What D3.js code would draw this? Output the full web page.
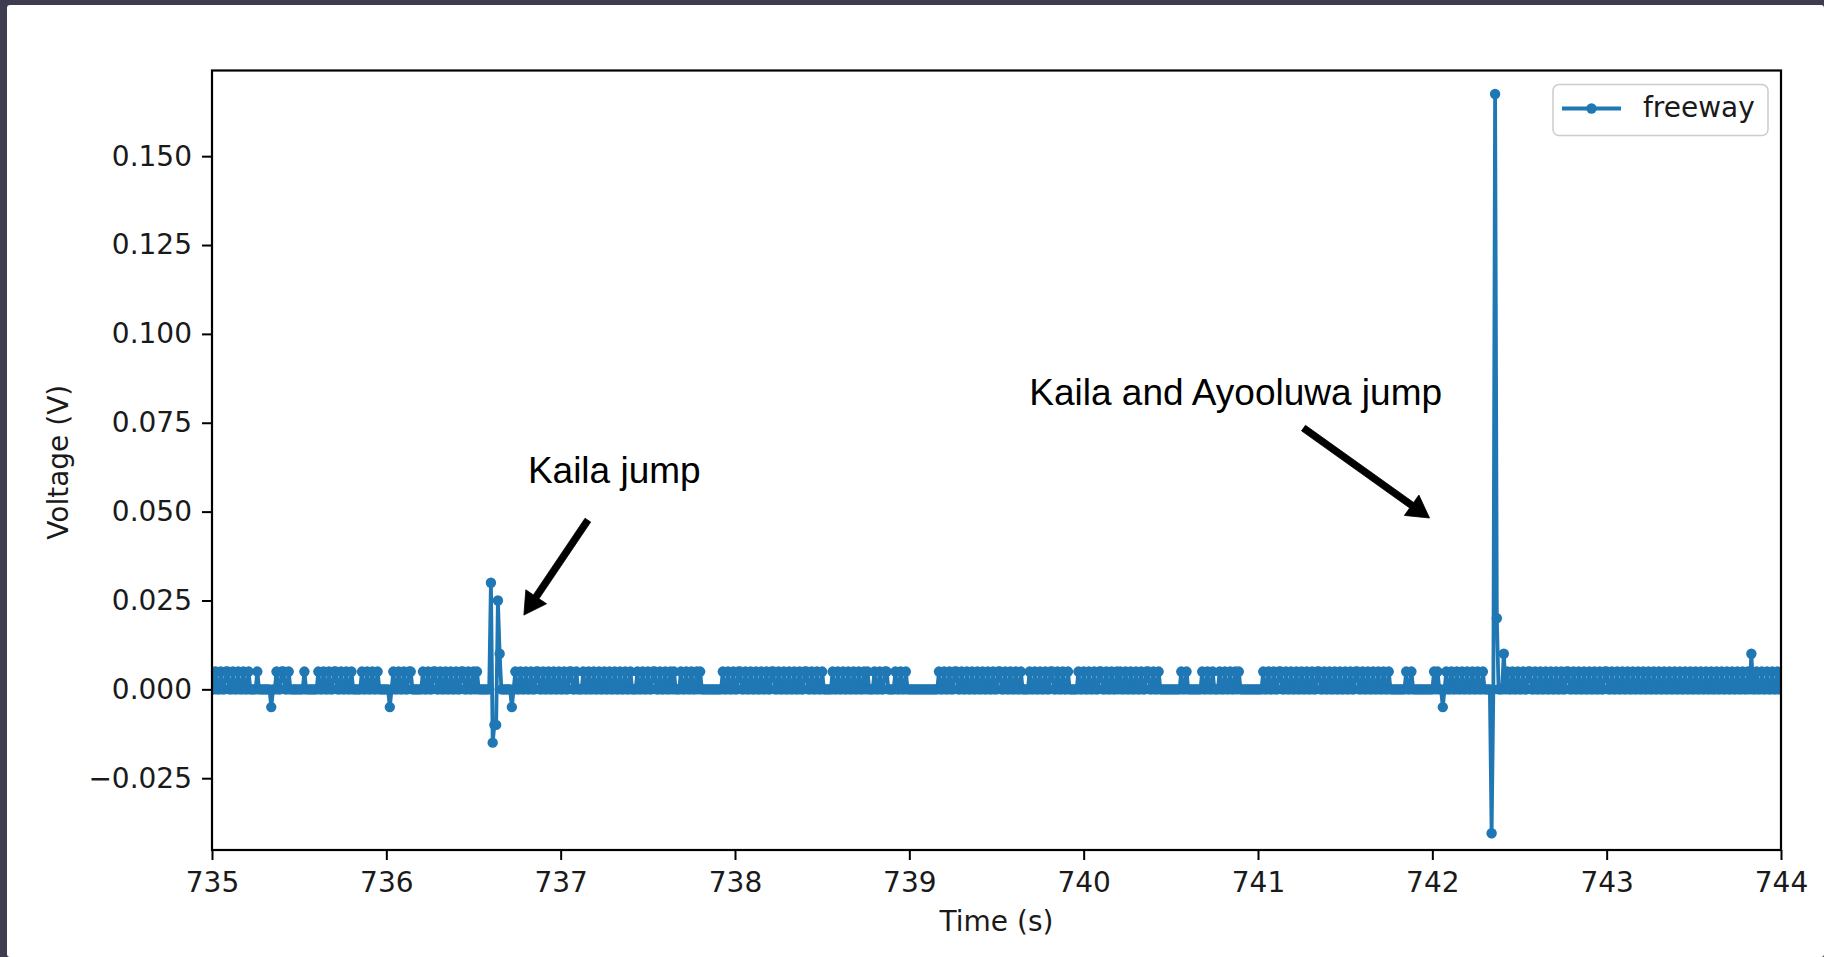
<!DOCTYPE html>
<html>
<head>
<meta charset="utf-8">
<script src="https://cdn.jsdelivr.net/npm/d3@7"></script>
<style>
  html, body { margin: 0; padding: 0; background: #3e3d50; }
  svg { display: block; }
</style>
</head>
<body>
<svg id="chart" width="1824" height="957"></svg>
<script>
// ---- data -------------------------------------------------------------
// Sensor trace "freeway": 100 Hz samples, quantised at 5 mV steps.
const timeRange = [735, 744];          // visible window (s)
const sampleStep = 0.01;               // sampling interval (s)
const voltageRange = [-0.0452, 0.1741];// y-axis limits (V)
const xTickValues = [735, 736, 737, 738, 739, 740, 741, 742, 743, 744];
const yTickValues = [-0.025, 0, 0.025, 0.05, 0.075, 0.1, 0.125, 0.15];
const quantumLevel = 0.005;            // one ADC step above zero

// samples that sit one step above zero
const highSampleTimes = [
  735.02, 735.05, 735.08, 735.09, 735.12, 735.15, 735.18, 735.21, 735.26,
  735.37, 735.40, 735.41, 735.44, 735.53,
  735.61, 735.64, 735.67, 735.70, 735.71, 735.74, 735.77, 735.80,
  735.86, 735.89, 735.92, 735.95,
  736.04, 736.07, 736.10, 736.13, 736.14,
  736.21, 736.24, 736.27, 736.28, 736.31, 736.34, 736.37, 736.40, 736.43, 736.44, 736.47, 736.50, 736.52,
  736.74, 736.77, 736.80, 736.83, 736.86, 736.87, 736.90, 736.93, 736.96, 736.99,
  737.02, 737.05, 737.06, 737.09, 737.13, 737.16, 737.19, 737.22, 737.25, 737.28, 737.31, 737.34, 737.37, 737.40,
  737.44, 737.47, 737.50, 737.53, 737.54, 737.57, 737.60, 737.63, 737.65,
  737.69, 737.72, 737.75, 737.78, 737.80,
  737.93, 737.96, 737.99, 738.02, 738.03, 738.06, 738.09, 738.12, 738.15, 738.18, 738.21, 738.22,
  738.25, 738.28, 738.31, 738.34, 738.37, 738.40, 738.41, 738.44, 738.47, 738.50,
  738.56, 738.59, 738.62, 738.65, 738.68, 738.71, 738.74, 738.76,
  738.80, 738.83, 738.86, 738.87, 738.92, 738.95, 738.98,
  739.17, 739.20, 739.23, 739.26, 739.27, 739.30, 739.33, 739.36, 739.39, 739.42, 739.45, 739.48,
  739.51, 739.52, 739.55, 739.58, 739.61, 739.64,
  739.69, 739.72, 739.75, 739.78, 739.81, 739.82, 739.85, 739.88, 739.91,
  739.97, 740.00, 740.03, 740.06, 740.09, 740.10, 740.13, 740.16, 740.19, 740.21,
  740.24, 740.27, 740.30, 740.33, 740.36, 740.37, 740.40, 740.43,
  740.56, 740.59, 740.68, 740.71, 740.74, 740.78, 740.81, 740.84, 740.87, 740.89,
  741.03, 741.06, 741.09, 741.12, 741.13, 741.16, 741.19, 741.22, 741.25, 741.28, 741.31, 741.34, 741.35,
  741.38, 741.41, 741.44, 741.47, 741.50, 741.53, 741.56, 741.57, 741.60, 741.63, 741.66, 741.69, 741.72, 741.75,
  741.85, 741.88, 742.01, 742.03,
  742.08, 742.11, 742.14, 742.17, 742.20, 742.23, 742.26, 742.29,
  742.43, 742.46, 742.49, 742.52, 742.55, 742.56, 742.59, 742.62, 742.65, 742.68, 742.71, 742.74, 742.77, 742.78,
  742.81, 742.84, 742.87, 742.90, 742.93, 742.96, 742.99, 743.00, 743.03, 743.06, 743.09, 743.12, 743.15, 743.18,
  743.21, 743.24, 743.27, 743.30, 743.33, 743.36, 743.39, 743.42, 743.45, 743.48, 743.51, 743.54, 743.57, 743.60,
  743.63, 743.66, 743.69, 743.72, 743.75, 743.78, 743.81, 743.86, 743.89, 743.92, 743.95, 743.98
];

// samples away from the two lowest levels (jumps and dips)
const eventTimes    = [735.34, 736.02, 736.60, 736.61, 736.62, 736.63, 736.64, 736.65, 736.72,
                       742.06, 742.34, 742.36, 742.37, 742.41, 743.83];
const eventVoltages = [-0.005, -0.005, 0.030, -0.015, -0.010, -0.010, 0.025, 0.010, -0.005,
                       -0.005, -0.0405, 0.1675, 0.020, 0.010, 0.010];

const seriesName = "freeway";
const xLabel = "Time (s)";
const yLabel = "Voltage (V)";

// annotations: label anchor, arrow tail and arrow tip in data units
const annotationLabels = ["Kaila jump", "Kaila and Ayooluwa jump"];
const annotationTextAt = [[736.812, 0.0580], [739.688, 0.0799]];
const annotationTails  = [[737.156, 0.0476], [741.261, 0.0735]];
const annotationTips   = [[736.789, 0.0209], [741.984, 0.0482]];

// ---- build the sample series -------------------------------------------
const keyOf = t => Math.round(t / sampleStep);
const sampleValues = new Map();
highSampleTimes.forEach(t => sampleValues.set(keyOf(t), quantumLevel));
eventTimes.forEach((t, i) => sampleValues.set(keyOf(t), eventVoltages[i]));
const firstKey = keyOf(timeRange[0]);
const lastKey = keyOf(timeRange[1]);
const series = d3.range(firstKey, lastKey + 1).map(k => ({
  t: k * sampleStep,
  v: sampleValues.has(k) ? sampleValues.get(k) : 0
}));

// ---- layout -------------------------------------------------------------
const svg = d3.select("#chart");
const W = 1824, H = 957;
const plot = { left: 212, right: 1781, top: 70.5, bottom: 850 };
const blue = "#1f77b4";
const tickFont = "'DejaVu Sans', sans-serif";
const noteFont = "'Liberation Sans', Arial, sans-serif";
const labelSize = "28px";

// page card
svg.append("rect").attr("x", 7).attr("y", 5).attr("width", W - 7).attr("height", H - 5)
  .attr("rx", 3).attr("fill", "#ffffff");

const x = d3.scaleLinear().domain(timeRange).range([plot.left, plot.right]);
const y = d3.scaleLinear().domain(voltageRange).range([plot.bottom, plot.top]);

svg.append("defs").append("clipPath").attr("id", "plot-clip")
  .append("rect").attr("x", plot.left).attr("y", plot.top)
  .attr("width", plot.right - plot.left).attr("height", plot.bottom - plot.top);

// trace
const g = svg.append("g").attr("clip-path", "url(#plot-clip)");
g.append("path")
  .datum(series)
  .attr("fill", "none")
  .attr("stroke", blue)
  .attr("stroke-width", 3.8)
  .attr("stroke-linejoin", "round")
  .attr("d", d3.line().x(d => x(d.t)).y(d => y(d.v)));
g.selectAll("circle.pt")
  .data(series)
  .join("circle")
  .attr("class", "pt")
  .attr("cx", d => x(d.t))
  .attr("cy", d => y(d.v))
  .attr("r", 5.2)
  .attr("fill", blue);

// axes
const xAxis = d3.axisBottom(x).tickValues(xTickValues).tickFormat(d3.format("d"))
  .tickSizeInner(10).tickSizeOuter(0).tickPadding(12);
const yAxis = d3.axisLeft(y).tickValues(yTickValues).tickFormat(d3.format(".3f"))
  .tickSizeInner(10).tickSizeOuter(0).tickPadding(10);

const gx = svg.append("g").attr("transform", `translate(0,${plot.bottom})`).call(xAxis);
const gy = svg.append("g").attr("transform", `translate(${plot.left},0)`).call(yAxis);
[gx, gy].forEach(ax => {
  ax.select(".domain").remove();
  ax.selectAll(".tick line").attr("stroke", "#000").attr("stroke-width", 2);
  ax.selectAll(".tick text").attr("fill", "#1a1a1a")
    .style("font-family", tickFont).style("font-size", labelSize);
});

// spines
svg.append("rect")
  .attr("x", plot.left).attr("y", plot.top)
  .attr("width", plot.right - plot.left).attr("height", plot.bottom - plot.top)
  .attr("fill", "none").attr("stroke", "#000").attr("stroke-width", 2.2);

// axis labels
svg.append("text")
  .attr("x", (plot.left + plot.right) / 2).attr("y", 931)
  .attr("text-anchor", "middle").attr("fill", "#1a1a1a")
  .style("font-family", tickFont).style("font-size", labelSize)
  .text(xLabel);
svg.append("text")
  .attr("transform", `translate(68,${(plot.top + plot.bottom) / 2 + 2}) rotate(-90)`)
  .attr("text-anchor", "middle").attr("fill", "#1a1a1a")
  .style("font-family", tickFont).style("font-size", labelSize)
  .text(yLabel);

// legend
const lg = svg.append("g");
lg.append("rect").attr("x", 1553).attr("y", 84.5).attr("width", 215).attr("height", 51)
  .attr("rx", 6).attr("fill", "#fff").attr("fill-opacity", 0.8)
  .attr("stroke", "#cccccc").attr("stroke-width", 1.5);
lg.append("line").attr("x1", 1562).attr("x2", 1621).attr("y1", 108.5).attr("y2", 108.5)
  .attr("stroke", blue).attr("stroke-width", 3.8);
lg.append("circle").attr("cx", 1591.5).attr("cy", 108.5).attr("r", 5.2).attr("fill", blue);
lg.append("text").attr("x", 1643).attr("y", 117)
  .style("font-family", tickFont).style("font-size", labelSize).attr("fill", "#1a1a1a")
  .text(seriesName);

// annotations with block arrows
function arrowPoints(x0, y0, x1, y1, shaft, headW, headL) {
  const dx = x1 - x0, dy = y1 - y0, L = Math.hypot(dx, dy);
  const ux = dx / L, uy = dy / L, px = -uy, py = ux;
  const bx = x1 - ux * headL, by = y1 - uy * headL;
  const s = shaft / 2, h = headW / 2;
  return [
    [x0 + px * s, y0 + py * s], [bx + px * s, by + py * s], [bx + px * h, by + py * h],
    [x1, y1],
    [bx - px * h, by - py * h], [bx - px * s, by - py * s], [x0 - px * s, y0 - py * s]
  ];
}
annotationLabels.forEach((label, i) => {
  svg.append("text")
    .attr("x", x(annotationTextAt[i][0])).attr("y", y(annotationTextAt[i][1]))
    .style("font-family", noteFont).style("font-size", "37px").attr("fill", "#000")
    .text(label);
  const pts = arrowPoints(
    x(annotationTails[i][0]), y(annotationTails[i][1]),
    x(annotationTips[i][0]), y(annotationTips[i][1]), 6.8, 25, 22);
  svg.append("polygon").attr("points", pts.map(p => p.join(",")).join(" "))
    .attr("fill", "#000").attr("stroke", "#000").attr("stroke-width", 0.8)
    .attr("stroke-linejoin", "miter");
});
</script>
</body>
</html>
